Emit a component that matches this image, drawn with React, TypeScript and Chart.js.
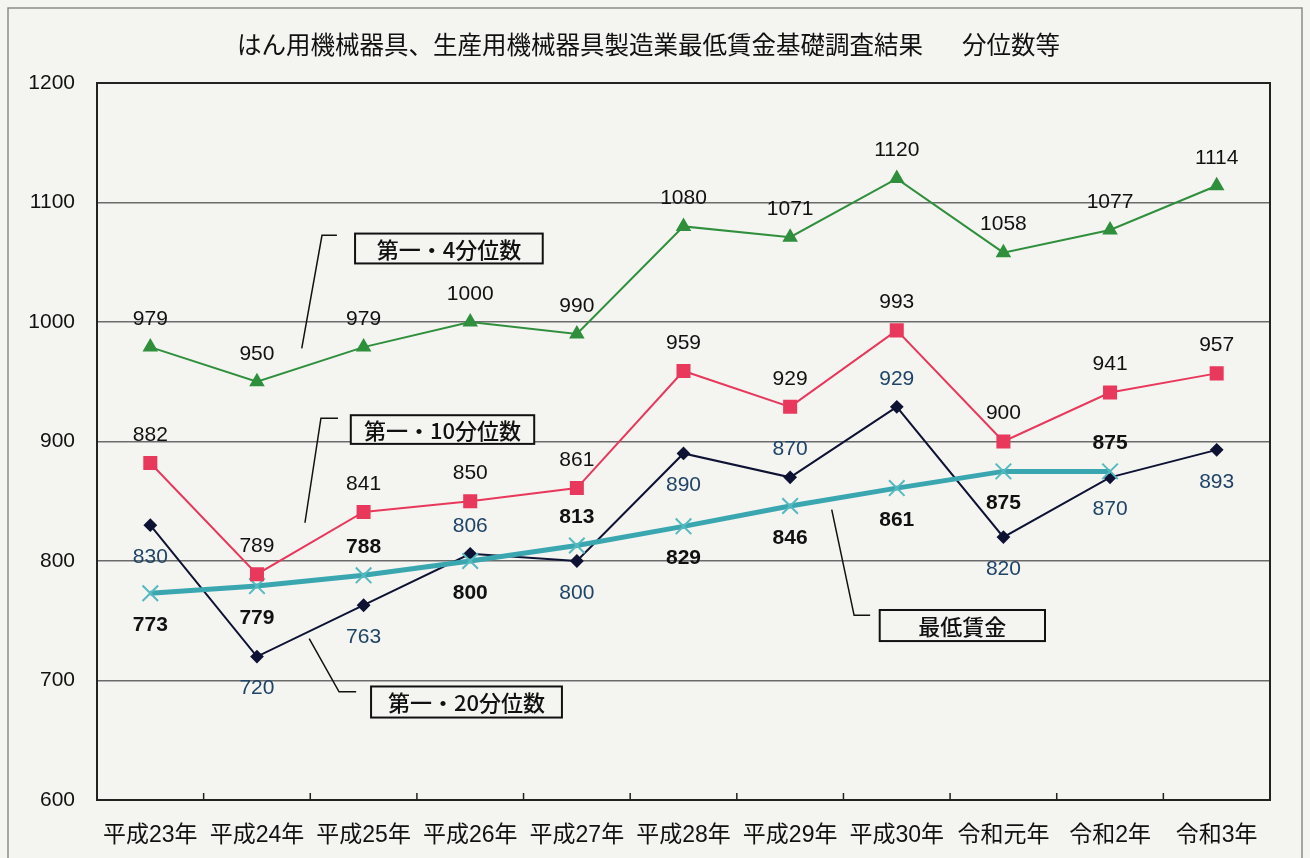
import React, { useEffect, useRef } from "react";
import { Chart, registerables } from "chart.js";

Chart.register(...registerables);

const categories = ["平成23年", "平成24年", "平成25年", "平成26年", "平成27年", "平成28年", "平成29年", "平成30年", "令和元年", "令和2年", "令和3年"];
const quartile4 = [979, 950, 979, 1000, 990, 1080, 1071, 1120, 1058, 1077, 1114];
const decile10 = [882, 789, 841, 850, 861, 959, 929, 993, 900, 941, 957];
const vigintile20 = [830, 720, 763, 806, 800, 890, 870, 929, 820, 870, 893];
const minimumWage = [773, 779, 788, 800, 813, 829, 846, 861, 875, 875, null];

const yMin = 600;
const yMax = 1200;
const yStep = 100;

const titleMain = "はん用機械器具、生産用機械器具製造業最低賃金基礎調査結果";
const titleSub = "分位数等";

// label placement per point: "a" = above, "b" = below
const quartile4Place = ["a", "a", "a", "a", "a", "a", "a", "a", "a", "a", "a"];
const decile10Place = ["a", "a", "a", "a", "a", "a", "a", "a", "a", "a", "a"];
const vigintile20Place = ["b", "b", "b", "a", "b", "b", "a", "a", "b", "b", "b"];
const minimumWagePlace = ["b", "b", "a", "b", "a", "b", "b", "b", "b", "a", "b"];

// callout boxes in data coordinates: [xIndexLeft, xIndexRight, yTop, yBottom]
const calloutTexts = ["第一・4分位数", "第一・10分位数", "第一・20分位数", "最低賃金"];
const calloutBoxes = [
  [1.92, 3.68, 1074, 1049],
  [1.88, 3.6, 922, 898],
  [2.07, 3.86, 695, 669],
  [6.84, 8.39, 759, 733],
];
const calloutLeaders = [
  [[1.75, 1072.5], [1.61, 1072.5], [1.42, 978]],
  [[1.76, 919.5], [1.6, 919.5], [1.45, 832]],
  [[1.93, 690.5], [1.77, 690.5], [1.49, 735]],
  [[6.75, 754.5], [6.6, 754.5], [6.39, 843]],
];

const FONT = '"Liberation Sans", Arial, "Noto Sans CJK JP", sans-serif';
const JFONT = '"Noto Sans CJK JP", "Liberation Sans", sans-serif';
const PAPER = "#f4f4f1";

const bgPlugin = {
  id: "paperBg",
  beforeDraw(chart: any) {
    const { ctx, width, height } = chart;
    ctx.save();
    ctx.fillStyle = PAPER;
    ctx.fillRect(0, 0, width, height);
    ctx.strokeStyle = "#8a8a8a";
    ctx.lineWidth = 1.5;
    ctx.beginPath();
    ctx.moveTo(8, height);
    ctx.lineTo(8, 8);
    ctx.lineTo(width - 8, 8);
    ctx.lineTo(width - 8, height);
    ctx.stroke();
    ctx.fillStyle = "#111";
    ctx.font = `24.5px ${JFONT}`;
    ctx.textAlign = "left";
    ctx.textBaseline = "middle";
    ctx.fillText(titleMain, 237, 45);
    ctx.textAlign = "right";
    ctx.fillText(titleSub, 1060, 45);
    ctx.restore();
  },
};

const framePlugin = {
  id: "frame",
  beforeDatasetsDraw(chart: any) {
    const { ctx, chartArea } = chart;
    const xs = chart.scales.x;
    ctx.save();
    ctx.strokeStyle = "#222";
    ctx.lineWidth = 2;
    ctx.strokeRect(chartArea.left, chartArea.top, chartArea.right - chartArea.left, chartArea.bottom - chartArea.top);
    ctx.lineWidth = 1.5;
    ctx.beginPath();
    for (let i = 0; i < categories.length - 1; i++) {
      const x = (xs.getPixelForValue(i) + xs.getPixelForValue(i + 1)) / 2;
      ctx.moveTo(x, chartArea.bottom);
      ctx.lineTo(x, chartArea.bottom - 7);
    }
    ctx.stroke();
    ctx.restore();
  },
};

const labelPlugin = {
  id: "valueLabels",
  afterDatasetsDraw(chart: any) {
    const { ctx } = chart;
    const specs = [
      { ds: 0, data: quartile4, place: quartile4Place, color: "#111", bold: false },
      { ds: 1, data: decile10, place: decile10Place, color: "#111", bold: false },
      { ds: 2, data: minimumWage, place: minimumWagePlace, color: "#111", bold: true },
      { ds: 3, data: vigintile20, place: vigintile20Place, color: "#1f4466", bold: false },
    ];
    ctx.save();
    ctx.textAlign = "center";
    ctx.textBaseline = "middle";
    specs.forEach((s) => {
      const meta = chart.getDatasetMeta(s.ds);
      ctx.fillStyle = s.color;
      ctx.font = `${s.bold ? "bold " : ""}21px ${FONT}`;
      s.data.forEach((v: any, i: number) => {
        if (v === null || v === undefined) return;
        const el = meta.data[i];
        const dy = s.place[i] === "a" ? -28 : 32;
        ctx.fillText(String(v), el.x, el.y + dy);
      });
    });
    ctx.restore();
  },
};

const calloutPlugin = {
  id: "callouts",
  afterDatasetsDraw(chart: any) {
    const { ctx } = chart;
    const xs = chart.scales.x;
    const ys = chart.scales.y;
    ctx.save();
    calloutTexts.forEach((t, k) => {
      const [x0, x1, yt, yb] = calloutBoxes[k];
      const px0 = xs.getPixelForValue(x0);
      const px1 = xs.getPixelForValue(x1);
      const py0 = ys.getPixelForValue(yt);
      const py1 = ys.getPixelForValue(yb);
      ctx.fillStyle = PAPER;
      ctx.fillRect(px0, py0, px1 - px0, py1 - py0);
      ctx.strokeStyle = "#111";
      ctx.lineWidth = 2;
      ctx.strokeRect(px0, py0, px1 - px0, py1 - py0);
      ctx.fillStyle = "#111";
      ctx.font = `500 22px ${JFONT}`;
      ctx.textAlign = "center";
      ctx.textBaseline = "middle";
      ctx.fillText(t, (px0 + px1) / 2, (py0 + py1) / 2 + 1);
      ctx.lineWidth = 1.5;
      ctx.beginPath();
      calloutLeaders[k].forEach((p, j) => {
        const x = xs.getPixelForValue(p[0]);
        const y = ys.getPixelForValue(p[1]);
        if (j === 0) ctx.moveTo(x, y);
        else ctx.lineTo(x, y);
      });
      ctx.stroke();
    });
    ctx.restore();
  },
};

export default function App() {
  const ref = useRef<HTMLCanvasElement | null>(null);
  useEffect(() => {
    document.body.style.margin = "0";
    const chart = new Chart(ref.current as HTMLCanvasElement, {
      type: "line",
      data: {
        labels: categories,
        datasets: [
          {
            label: "第一・4分位数",
            data: quartile4,
            borderColor: "#2f8f3c",
            backgroundColor: "#2f8f3c",
            borderWidth: 2,
            pointStyle: "triangle",
            pointRadius: 7,
            tension: 0,
          },
          {
            label: "第一・10分位数",
            data: decile10,
            borderColor: "#e8395c",
            backgroundColor: "#e8395c",
            borderWidth: 2,
            pointStyle: "rect",
            pointRadius: 8.5,
            tension: 0,
          },
          {
            label: "最低賃金",
            data: minimumWage,
            borderColor: "#3aa6b0",
            backgroundColor: "#3aa6b0",
            borderWidth: 5,
            pointStyle: "crossRot",
            pointRadius: 11,
            pointBorderWidth: 2,
            pointBorderColor: "#55b9c0",
            tension: 0,
            spanGaps: false,
          },
          {
            label: "第一・20分位数",
            data: vigintile20,
            borderColor: "#0e1233",
            backgroundColor: "#0e1233",
            borderWidth: 2,
            pointStyle: "rectRot",
            pointRadius: 5.5,
            tension: 0,
          },
        ],
      },
      options: {
        responsive: false,
        animation: false,
        layout: { padding: { top: 83, right: 40, left: 0, bottom: 0 } },
        plugins: {
          legend: { display: false },
          tooltip: { enabled: false },
          title: { display: false },
        },
        scales: {
          x: {
            offset: true,
            grid: { display: false },
            border: { display: false },
            ticks: {
              color: "#111",
              font: { family: FONT, size: 23 },
              padding: 14,
              maxRotation: 0,
              autoSkip: false,
            },
            afterFit(scale: any) {
              scale.height = 58;
            },
          },
          y: {
            min: yMin,
            max: yMax,
            grid: { color: "#6b6b6b", lineWidth: 1.5, drawTicks: false },
            border: { display: false },
            ticks: {
              stepSize: yStep,
              color: "#111",
              font: { family: FONT, size: 21 },
              padding: 22,
              callback: (v: any) => String(v),
            },
            afterFit(scale: any) {
              scale.width = 97;
            },
          },
        },
      },
      plugins: [bgPlugin, framePlugin, labelPlugin, calloutPlugin],
    } as any);
    return () => chart.destroy();
  }, []);
  return <canvas ref={ref} width={1310} height={858} style={{ display: "block", width: 1310, height: 858 }} />;
}
